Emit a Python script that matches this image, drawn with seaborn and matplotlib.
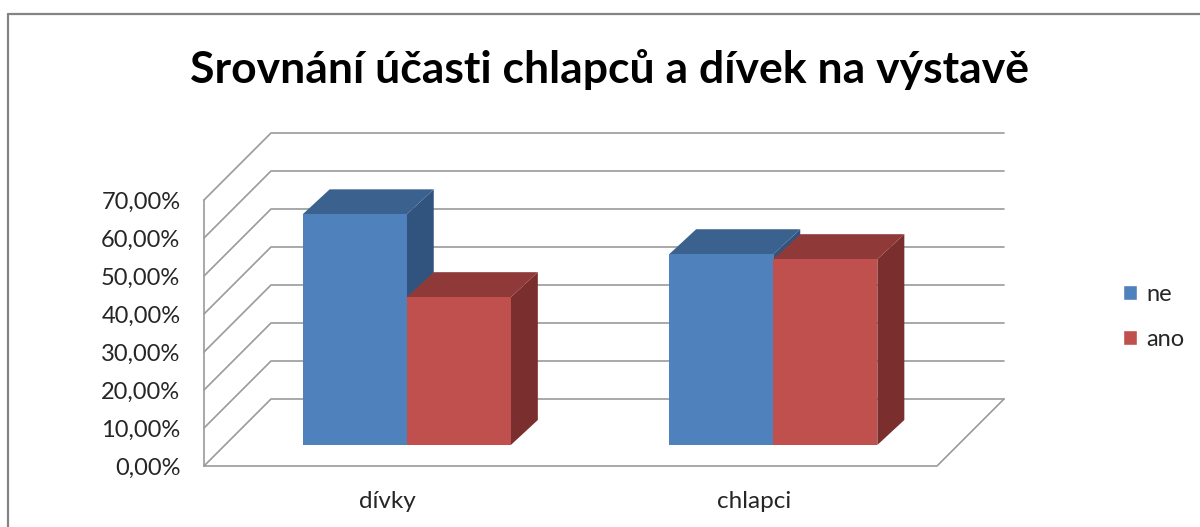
import pandas as pd
import matplotlib.pyplot as plt
import seaborn as sns
from matplotlib.lines import Line2D
from matplotlib.patches import Polygon

title = "Srovnání účasti chlapců a dívek na výstavě"
categories = ["dívky", "chlapci"]
series_names = ["ne", "ano"]
ne_values = [60.7, 50.2]
ano_values = [38.9, 48.9]
tick_values = [0, 10, 20, 30, 40, 50, 60, 70]
tick_labels = ["0,00%", "10,00%", "20,00%", "30,00%", "40,00%", "50,00%", "60,00%", "70,00%"]

colors = {"ne": "#4F81BD", "ano": "#C0504D"}
top_colors = {"ne": "#3B618F", "ano": "#8F3A38"}
side_colors = {"ne": "#31547E", "ano": "#7A2F2E"}
grid_color = "#9A9A9A"

W, H = 1200, 527
PX_X = 733 / 2     # pixels per category
PX_Y = 3.8         # pixels per percent

sns.set_theme(style="white")
plt.rcParams["font.family"] = ["Lato", "DejaVu Sans"]

df = pd.DataFrame({
    "kategorie": categories * 2,
    "hodnota": ne_values + ano_values,
    "serie": [series_names[0]] * 2 + [series_names[1]] * 2,
})

fig = plt.figure(figsize=(W / 100, H / 100), dpi=100, facecolor="white")


def make_axes(left, bottom):
    ax = fig.add_axes([left / W, (H - bottom) / H, 733 / W, 70 * PX_Y / H])
    ax.patch.set_alpha(0)
    return ax


# front plane holds the ticks and walls, bars stand a bit further back
ax = make_axes(204, 466)
ax_bars = make_axes(223.5, 445)
ax_bars.set_zorder(ax.get_zorder() + 1)

sns.barplot(data=df, x="kategorie", y="hodnota", hue="serie", palette=colors,
            width=0.568, saturation=1, ax=ax_bars)

for a in (ax, ax_bars):
    a.set_xlim(-0.5, 1.5)
    a.set_ylim(0, 70)

# walls and floor
wall_dx = 67 / PX_X
wall_dy = 67 / PX_Y
line_style = dict(color=grid_color, lw=1.2, clip_on=False, solid_capstyle="round")
for v in tick_values:
    ax.plot([-0.5, -0.5 + wall_dx, 1.5 + wall_dx], [v, v + wall_dy, v + wall_dy], **line_style)
ax.plot([-0.5, -0.5], [0, 70], **line_style)
ax.plot([-0.5, 1.5, 1.5 + wall_dx], [0, 0, wall_dy], **line_style)

ax.set_xticks(range(len(categories)), categories)
ax.set_yticks(tick_values, tick_labels)
ax.set_xlabel("")
ax.set_ylabel("")
ax.tick_params(axis="y", length=0, pad=17, labelsize=17, labelcolor="#262626")
ax.tick_params(axis="x", length=0, pad=18, labelsize=17.5, labelcolor="#262626")
sns.despine(ax=ax, left=True, bottom=True)

# depth of the bars, built from the bars seaborn drew
bar_dx = 27 / PX_X
bar_dy = 25 / PX_Y
handles, labels = ax_bars.get_legend_handles_labels()
ax_bars.get_legend().remove()

bars = []
for name, container in zip(series_names, ax_bars.containers):
    bars += [(p, name) for p in container]
bars.sort(key=lambda b: b[0].get_x())

for i, (bar, name) in enumerate(bars):
    x0, x1 = bar.get_x(), bar.get_x() + bar.get_width()
    h = bar.get_height()
    z = 2 + i
    ax_bars.add_patch(Polygon([(x1, 0), (x1 + bar_dx, bar_dy), (x1 + bar_dx, h + bar_dy), (x1, h)],
                              facecolor=side_colors[name], edgecolor="none", clip_on=False, zorder=z))
    ax_bars.add_patch(Polygon([(x0, h), (x0 + bar_dx, h + bar_dy), (x1 + bar_dx, h + bar_dy), (x1, h)],
                              facecolor=top_colors[name], edgecolor="none", clip_on=False, zorder=z))
    bar.set_zorder(z + 0.5)
    bar.set_edgecolor("none")
    bar.set_clip_on(False)

ax_bars.axis("off")

fig.text(610 / W, (H - 83) / H, title, ha="center", va="baseline",
         fontsize=32, fontweight="bold", color="black")

fig.legend(handles, labels, loc="center left", bbox_to_anchor=(1123 / W, (H - 317) / H),
           frameon=False, fontsize=17, handlelength=0.6, handleheight=0.6,
           handletextpad=0.38, labelspacing=1.0, labelcolor="#262626", borderpad=0.0,
           borderaxespad=0.0)

# chart frame, only left and top are in the picture
frame = dict(color="#848484", lw=1.6)
fig.add_artist(Line2D([8 / W, 8 / W], [0, (H - 14) / H], **frame))
fig.add_artist(Line2D([8 / W, 1], [(H - 14) / H, (H - 14) / H], **frame))

fig.savefig("out.png", dpi=100, facecolor="white")
